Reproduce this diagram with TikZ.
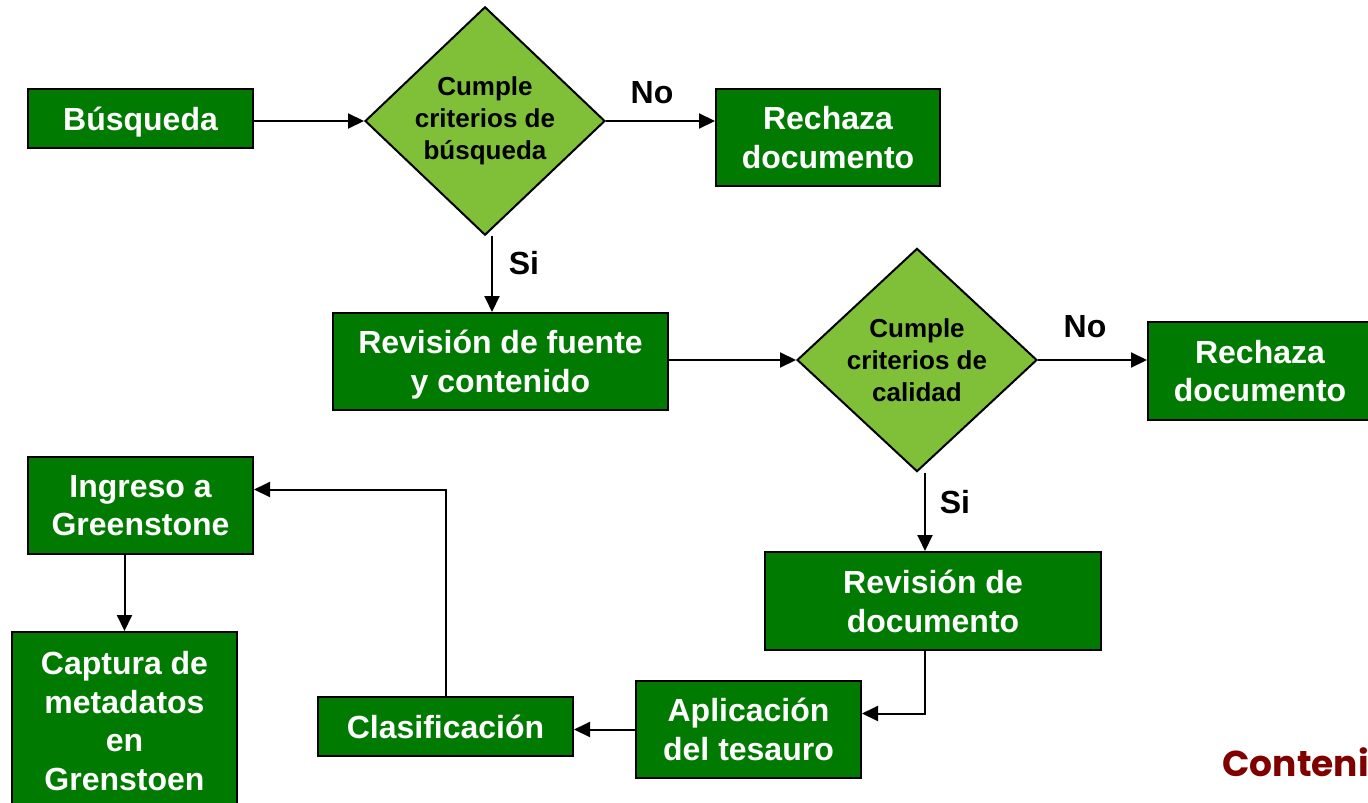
\documentclass[tikz,border=0pt]{standalone}
\usepackage{fontspec}
\setmainfont{Liberation Sans}
\newfontfamily\contfont{Poppins}
\usetikzlibrary{shapes.geometric,arrows.meta}
\definecolor{boxgreen}{RGB}{0,122,0}
\definecolor{diagreen}{RGB}{128,191,56}
\definecolor{darkred}{RGB}{128,0,0}
\begin{document}
\begin{tikzpicture}[x=0.5pt,y=-0.5pt,
  box/.style={draw=black, line width=1pt, fill=boxgreen, text=white,
    font=\fontsize{16}{19.3}\selectfont\bfseries, align=center, inner sep=0pt, text depth=0pt},
  decision/.style={shape=diamond, draw=black, line width=1pt, fill=diagreen,
    inner sep=0pt, minimum width=120pt, minimum height=111pt,
    font=\fontsize{13}{16}\selectfont\bfseries, align=center},
  arr/.style={-{Triangle[length=8pt,width=7.5pt]}, line width=1pt},
  lbl/.style={font=\fontsize{16}{19}\selectfont\bfseries, inner sep=0pt}]
\useasboundingbox (0,0) rectangle (1368,802);
\clip (0,0) rectangle (1368,802);

\node[box, minimum width=112.5pt, minimum height=29.5pt] (busq) at (140.5,118.5) {Búsqueda};
\node[decision] (d1) at (485,121) {Cumple\\criterios de\\búsqueda};
\node[box, minimum width=112pt, minimum height=48.5pt] (rech1) at (828,137.5) {Rechaza\\documento};
\node[box, minimum width=167.5pt, minimum height=48.5pt] (rev1) at (500.5,361.5) {Revisión de fuente\\y contenido};
\node[decision] (d2) at (917,360) {Cumple\\criterios de\\calidad};
\node[box, minimum width=112pt, minimum height=49pt] (rech2) at (1260,371) {Rechaza\\documento};
\node[box, minimum width=168pt, minimum height=49pt] (revdoc) at (933,601) {Revisión de\\documento};
\node[box, minimum width=112.5pt, minimum height=48.5pt] (apl) at (748.5,729.5) {Aplicación\\del tesauro};
\node[box, minimum width=127.5pt, minimum height=29.5pt] (clas) at (445.5,726.5) {Clasificación};
\node[box, minimum width=112.5pt, minimum height=48.5pt] (ing) at (140.5,505.5) {Ingreso a\\Greenstone};
\node[box, minimum width=112.5pt, minimum height=89pt] (cap) at (124.5,721) {Captura de\\metadatos\\en\\Grenstoen};

\draw[arr] (busq.east |- d1.west) -- (d1.west);
\draw[arr] (d1.east) -- (d1.east -| rech1.west);
\draw[arr] ([xshift=3.5pt]d1.south) -- ([xshift=3.5pt]d1.south |- rev1.north);
\draw[arr] (rev1.east |- d2.west) -- (d2.west);
\draw[arr] (d2.east) -- (d2.east -| rech2.west);
\draw[arr] ([xshift=4pt]d2.south) -- ([xshift=4pt]d2.south |- revdoc.north);
\draw[arr] ([xshift=-4pt]revdoc.south) |- ([yshift=8pt]apl.east);
\draw[arr] (apl.west) -- (apl.west -| clas.east);
\draw[arr] (clas.north) |- ([yshift=8pt]ing.east);
\draw[arr] (ing.south -| cap.north) -- (cap.north);

\node[lbl] (no1) at (652,93) {No};
\node[lbl] (si1) at (524,263) {Si};
\node[lbl] (no2) at (1085,327) {No};
\node[lbl] (si2) at (955,502) {Si};

\node[anchor=west, inner sep=0pt, text=darkred, font=\contfont\bfseries\fontsize{18}{22}\selectfont] (cont) at (1222,762) {Contenido};
\end{tikzpicture}
\end{document}
